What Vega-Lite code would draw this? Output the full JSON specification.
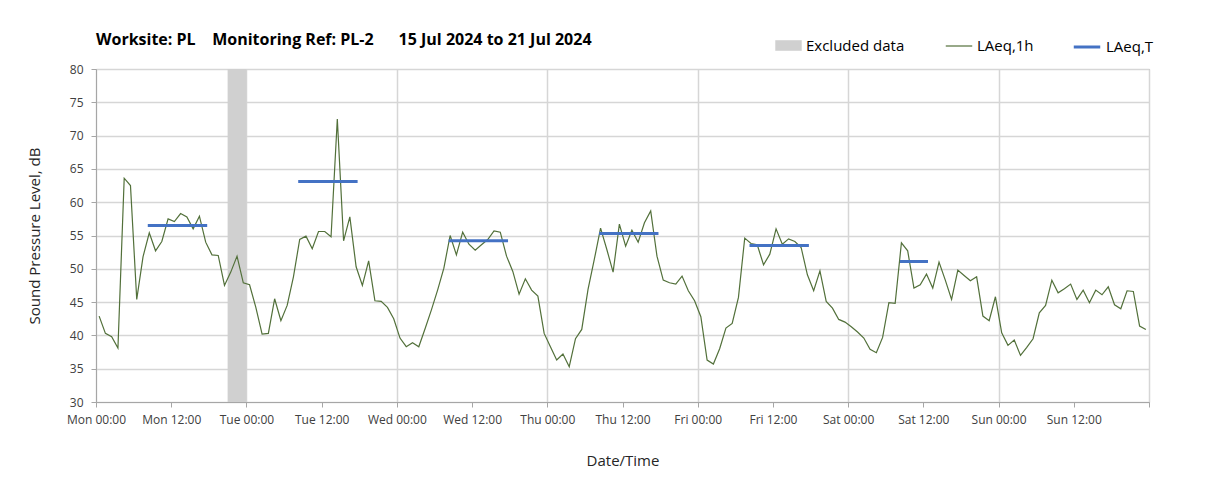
{
  "$schema": "https://vega.github.io/schema/vega-lite/v6.json",
  "width": 1053,
  "height": 333,
  "autosize": "none",
  "padding": {"left": 96, "top": 69, "right": 59, "bottom": 91},
  "background": "white",
  "title": {
    "text": "Worksite: PL\u00a0\u00a0\u00a0 Monitoring Ref: PL-2\u00a0\u00a0\u00a0\u00a0\u00a0 15 Jul 2024 to 21 Jul 2024",
    "anchor": "start",
    "frame": "group",
    "font": "Open Sans",
    "fontSize": 16,
    "fontWeight": "bold",
    "color": "#000000",
    "offset": 17,
    "dy": 33
  },
  "datasets": {
    "excluded": [
      {"t": "2024-07-15T21:00Z", "t2": "2024-07-16T00:00Z", "series": "Excluded data"}
    ],
    "laeqT": [
      {"t": "2024-07-15T08:30Z", "t2": "2024-07-15T17:30Z", "v": 56.5},
      {"t": "2024-07-16T08:30Z", "t2": "2024-07-16T17:30Z", "v": 63.1},
      {"t": "2024-07-17T08:30Z", "t2": "2024-07-17T17:30Z", "v": 54.2},
      {"t": "2024-07-18T08:30Z", "t2": "2024-07-18T17:30Z", "v": 55.3},
      {"t": "2024-07-19T08:30Z", "t2": "2024-07-19T17:30Z", "v": 53.5},
      {"t": "2024-07-20T08:30Z", "t2": "2024-07-20T12:30Z", "v": 51.1}
    ],
    "laeq1h": [
      {"t": "2024-07-15T00:30Z", "v": 42.9}, {"t": "2024-07-15T01:30Z", "v": 40.3}, {"t": "2024-07-15T02:30Z", "v": 39.8}, {"t": "2024-07-15T03:30Z", "v": 38.1},
      {"t": "2024-07-15T04:30Z", "v": 63.6}, {"t": "2024-07-15T05:30Z", "v": 62.5}, {"t": "2024-07-15T06:30Z", "v": 45.4}, {"t": "2024-07-15T07:30Z", "v": 51.8},
      {"t": "2024-07-15T08:30Z", "v": 55.4}, {"t": "2024-07-15T09:30Z", "v": 52.7}, {"t": "2024-07-15T10:30Z", "v": 54.1}, {"t": "2024-07-15T11:30Z", "v": 57.5},
      {"t": "2024-07-15T12:30Z", "v": 57.1}, {"t": "2024-07-15T13:30Z", "v": 58.3}, {"t": "2024-07-15T14:30Z", "v": 57.8}, {"t": "2024-07-15T15:30Z", "v": 56.0},
      {"t": "2024-07-15T16:30Z", "v": 57.9}, {"t": "2024-07-15T17:30Z", "v": 54.0}, {"t": "2024-07-15T18:30Z", "v": 52.1}, {"t": "2024-07-15T19:30Z", "v": 52.0},
      {"t": "2024-07-15T20:30Z", "v": 47.5}, {"t": "2024-07-15T21:30Z", "v": 49.5}, {"t": "2024-07-15T22:30Z", "v": 51.9}, {"t": "2024-07-15T23:30Z", "v": 47.9},
      {"t": "2024-07-16T00:30Z", "v": 47.6}, {"t": "2024-07-16T01:30Z", "v": 44.2}, {"t": "2024-07-16T02:30Z", "v": 40.2}, {"t": "2024-07-16T03:30Z", "v": 40.3},
      {"t": "2024-07-16T04:30Z", "v": 45.5}, {"t": "2024-07-16T05:30Z", "v": 42.2}, {"t": "2024-07-16T06:30Z", "v": 44.5}, {"t": "2024-07-16T07:30Z", "v": 48.8},
      {"t": "2024-07-16T08:30Z", "v": 54.4}, {"t": "2024-07-16T09:30Z", "v": 54.9}, {"t": "2024-07-16T10:30Z", "v": 53.0}, {"t": "2024-07-16T11:30Z", "v": 55.6},
      {"t": "2024-07-16T12:30Z", "v": 55.6}, {"t": "2024-07-16T13:30Z", "v": 54.8}, {"t": "2024-07-16T14:30Z", "v": 72.5}, {"t": "2024-07-16T15:30Z", "v": 54.2},
      {"t": "2024-07-16T16:30Z", "v": 57.8}, {"t": "2024-07-16T17:30Z", "v": 50.3}, {"t": "2024-07-16T18:30Z", "v": 47.5}, {"t": "2024-07-16T19:30Z", "v": 51.2},
      {"t": "2024-07-16T20:30Z", "v": 45.2}, {"t": "2024-07-16T21:30Z", "v": 45.1}, {"t": "2024-07-16T22:30Z", "v": 44.2}, {"t": "2024-07-16T23:30Z", "v": 42.5},
      {"t": "2024-07-17T00:30Z", "v": 39.6}, {"t": "2024-07-17T01:30Z", "v": 38.3}, {"t": "2024-07-17T02:30Z", "v": 38.9}, {"t": "2024-07-17T03:30Z", "v": 38.3},
      {"t": "2024-07-17T04:30Z", "v": 41.0}, {"t": "2024-07-17T05:30Z", "v": 43.8}, {"t": "2024-07-17T06:30Z", "v": 46.8}, {"t": "2024-07-17T07:30Z", "v": 50.1},
      {"t": "2024-07-17T08:30Z", "v": 55.0}, {"t": "2024-07-17T09:30Z", "v": 52.1}, {"t": "2024-07-17T10:30Z", "v": 55.5}, {"t": "2024-07-17T11:30Z", "v": 53.7},
      {"t": "2024-07-17T12:30Z", "v": 52.8}, {"t": "2024-07-17T13:30Z", "v": 53.6}, {"t": "2024-07-17T14:30Z", "v": 54.4}, {"t": "2024-07-17T15:30Z", "v": 55.7},
      {"t": "2024-07-17T16:30Z", "v": 55.5}, {"t": "2024-07-17T17:30Z", "v": 51.9}, {"t": "2024-07-17T18:30Z", "v": 49.6}, {"t": "2024-07-17T19:30Z", "v": 46.2},
      {"t": "2024-07-17T20:30Z", "v": 48.5}, {"t": "2024-07-17T21:30Z", "v": 46.8}, {"t": "2024-07-17T22:30Z", "v": 45.9}, {"t": "2024-07-17T23:30Z", "v": 40.3},
      {"t": "2024-07-18T00:30Z", "v": 38.3}, {"t": "2024-07-18T01:30Z", "v": 36.3}, {"t": "2024-07-18T02:30Z", "v": 37.2}, {"t": "2024-07-18T03:30Z", "v": 35.3},
      {"t": "2024-07-18T04:30Z", "v": 39.5}, {"t": "2024-07-18T05:30Z", "v": 40.9}, {"t": "2024-07-18T06:30Z", "v": 46.9}, {"t": "2024-07-18T07:30Z", "v": 51.4},
      {"t": "2024-07-18T08:30Z", "v": 56.1}, {"t": "2024-07-18T09:30Z", "v": 52.9}, {"t": "2024-07-18T10:30Z", "v": 49.5}, {"t": "2024-07-18T11:30Z", "v": 56.7},
      {"t": "2024-07-18T12:30Z", "v": 53.4}, {"t": "2024-07-18T13:30Z", "v": 55.8}, {"t": "2024-07-18T14:30Z", "v": 54.0}, {"t": "2024-07-18T15:30Z", "v": 56.9},
      {"t": "2024-07-18T16:30Z", "v": 58.7}, {"t": "2024-07-18T17:30Z", "v": 51.9}, {"t": "2024-07-18T18:30Z", "v": 48.3}, {"t": "2024-07-18T19:30Z", "v": 47.9},
      {"t": "2024-07-18T20:30Z", "v": 47.7}, {"t": "2024-07-18T21:30Z", "v": 48.9}, {"t": "2024-07-18T22:30Z", "v": 46.7}, {"t": "2024-07-18T23:30Z", "v": 45.2},
      {"t": "2024-07-19T00:30Z", "v": 42.8}, {"t": "2024-07-19T01:30Z", "v": 36.3}, {"t": "2024-07-19T02:30Z", "v": 35.7}, {"t": "2024-07-19T03:30Z", "v": 38.0},
      {"t": "2024-07-19T04:30Z", "v": 41.1}, {"t": "2024-07-19T05:30Z", "v": 41.8}, {"t": "2024-07-19T06:30Z", "v": 45.7}, {"t": "2024-07-19T07:30Z", "v": 54.6},
      {"t": "2024-07-19T08:30Z", "v": 53.8}, {"t": "2024-07-19T09:30Z", "v": 53.6}, {"t": "2024-07-19T10:30Z", "v": 50.6}, {"t": "2024-07-19T11:30Z", "v": 52.2},
      {"t": "2024-07-19T12:30Z", "v": 56.0}, {"t": "2024-07-19T13:30Z", "v": 53.7}, {"t": "2024-07-19T14:30Z", "v": 54.5}, {"t": "2024-07-19T15:30Z", "v": 54.1},
      {"t": "2024-07-19T16:30Z", "v": 53.2}, {"t": "2024-07-19T17:30Z", "v": 49.1}, {"t": "2024-07-19T18:30Z", "v": 46.7}, {"t": "2024-07-19T19:30Z", "v": 49.7},
      {"t": "2024-07-19T20:30Z", "v": 45.1}, {"t": "2024-07-19T21:30Z", "v": 44.1}, {"t": "2024-07-19T22:30Z", "v": 42.4}, {"t": "2024-07-19T23:30Z", "v": 42.0},
      {"t": "2024-07-20T00:30Z", "v": 41.3}, {"t": "2024-07-20T01:30Z", "v": 40.5}, {"t": "2024-07-20T02:30Z", "v": 39.6}, {"t": "2024-07-20T03:30Z", "v": 37.9},
      {"t": "2024-07-20T04:30Z", "v": 37.4}, {"t": "2024-07-20T05:30Z", "v": 39.7}, {"t": "2024-07-20T06:30Z", "v": 44.9}, {"t": "2024-07-20T07:30Z", "v": 44.8},
      {"t": "2024-07-20T08:30Z", "v": 53.9}, {"t": "2024-07-20T09:30Z", "v": 52.7}, {"t": "2024-07-20T10:30Z", "v": 47.1}, {"t": "2024-07-20T11:30Z", "v": 47.6},
      {"t": "2024-07-20T12:30Z", "v": 49.2}, {"t": "2024-07-20T13:30Z", "v": 47.1}, {"t": "2024-07-20T14:30Z", "v": 51.0}, {"t": "2024-07-20T15:30Z", "v": 48.3},
      {"t": "2024-07-20T16:30Z", "v": 45.4}, {"t": "2024-07-20T17:30Z", "v": 49.8}, {"t": "2024-07-20T18:30Z", "v": 49.0}, {"t": "2024-07-20T19:30Z", "v": 48.2},
      {"t": "2024-07-20T20:30Z", "v": 48.8}, {"t": "2024-07-20T21:30Z", "v": 42.9}, {"t": "2024-07-20T22:30Z", "v": 42.2}, {"t": "2024-07-20T23:30Z", "v": 45.8},
      {"t": "2024-07-21T00:30Z", "v": 40.4}, {"t": "2024-07-21T01:30Z", "v": 38.5}, {"t": "2024-07-21T02:30Z", "v": 39.3}, {"t": "2024-07-21T03:30Z", "v": 37.0},
      {"t": "2024-07-21T04:30Z", "v": 38.2}, {"t": "2024-07-21T05:30Z", "v": 39.5}, {"t": "2024-07-21T06:30Z", "v": 43.4}, {"t": "2024-07-21T07:30Z", "v": 44.5},
      {"t": "2024-07-21T08:30Z", "v": 48.3}, {"t": "2024-07-21T09:30Z", "v": 46.4}, {"t": "2024-07-21T10:30Z", "v": 47.0}, {"t": "2024-07-21T11:30Z", "v": 47.7},
      {"t": "2024-07-21T12:30Z", "v": 45.4}, {"t": "2024-07-21T13:30Z", "v": 46.8}, {"t": "2024-07-21T14:30Z", "v": 44.9}, {"t": "2024-07-21T15:30Z", "v": 46.8},
      {"t": "2024-07-21T16:30Z", "v": 46.1}, {"t": "2024-07-21T17:30Z", "v": 47.3}, {"t": "2024-07-21T18:30Z", "v": 44.6}, {"t": "2024-07-21T19:30Z", "v": 44.0},
      {"t": "2024-07-21T20:30Z", "v": 46.7}, {"t": "2024-07-21T21:30Z", "v": 46.6}, {"t": "2024-07-21T22:30Z", "v": 41.4}, {"t": "2024-07-21T23:30Z", "v": 40.9}
    ]
  },
  "encoding": {
    "x": {
      "field": "t",
      "type": "temporal",
      "title": "Date/Time",
      "scale": {"type": "utc", "domain": [1721001600000, 1721606400000]},
      "axis": {
        "values": [1721001600000, 1721044800000, 1721088000000, 1721131200000, 1721174400000, 1721217600000, 1721260800000, 1721304000000, 1721347200000, 1721390400000, 1721433600000, 1721476800000, 1721520000000, 1721563200000, 1721606400000],
        "labelExpr": "utcdate(datum.value) === 22 ? '' : utcFormat(datum.value, '%a %H:%M')",
        "labelOverlap": false,
        "labelFlush": false,
        "grid": true,
        "gridOpacity": {"condition": {"test": "utchours(datum.value) === 0", "value": 1}, "value": 0},
        "tickSize": 5,
        "labelPadding": 7,
        "titlePadding": 28
      }
    }
  },
  "resolve": {"scale": {"color": "independent"}, "legend": {"color": "independent"}},
  "layer": [
    {
      "data": {"name": "excluded"},
      "mark": {"type": "rect", "opacity": 1},
      "encoding": {
        "x2": {"field": "t2"},
        "color": {
          "field": "series",
          "type": "nominal",
          "scale": {"domain": ["Excluded data"], "range": ["#d0d0d0"]},
          "legend": {
            "title": null,
            "orient": "none",
            "legendX": 679,
            "legendY": -37,
            "labelOffset": 4,
            "symbolSize": 700,
            "symbolType": "M-1,-0.4H1V0.4H-1Z",
            "symbolStrokeWidth": 0,
            "labelFont": "Open Sans",
            "labelFontSize": 15,
            "labelColor": "#000000",
            "labelLimit": 300
          }
        }
      }
    },
    {
      "data": {"name": "laeq1h"},
      "mark": {"type": "line", "strokeWidth": 1.2},
      "encoding": {
        "y": {
          "field": "v",
          "type": "quantitative",
          "title": "Sound Pressure Level, dB",
          "scale": {"domain": [30, 80], "nice": false, "zero": false},
          "axis": {"values": [30, 35, 40, 45, 50, 55, 60, 65, 70, 75, 80], "labelOverlap": false, "tickSize": 5, "labelPadding": 8, "titlePadding": 27}
        },
        "color": {
          "datum": "LAeq,1h",
          "type": "nominal",
          "scale": {"domain": ["LAeq,1h"], "range": ["#52703a"]},
          "legend": {
            "title": null,
            "orient": "none",
            "legendX": 849,
            "legendY": -37,
            "labelOffset": 4,
            "symbolSize": 700,
            "symbolType": "stroke",
            "symbolStrokeWidth": 1.2,
            "labelFont": "Open Sans",
            "labelFontSize": 15,
            "labelColor": "#000000",
            "labelLimit": 300
          }
        }
      }
    },
    {
      "data": {"name": "laeqT"},
      "mark": {"type": "rule", "strokeWidth": 3, "strokeCap": "square"},
      "encoding": {
        "x2": {"field": "t2"},
        "y": {
          "field": "v",
          "type": "quantitative",
          "title": "Sound Pressure Level, dB",
          "axis": {"values": [30, 35, 40, 45, 50, 55, 60, 65, 70, 75, 80], "labelOverlap": false, "tickSize": 5, "labelPadding": 8, "titlePadding": 27}
        },
        "color": {
          "datum": "LAeq,T",
          "type": "nominal",
          "scale": {"domain": ["LAeq,T"], "range": ["#4472c4"]},
          "legend": {
            "title": null,
            "orient": "none",
            "legendX": 976,
            "legendY": -37,
            "labelOffset": 4,
            "symbolSize": 700,
            "symbolType": "stroke",
            "symbolStrokeWidth": 3,
            "labelFont": "Open Sans",
            "labelFontSize": 15,
            "labelColor": "#000000",
            "labelLimit": 300
          }
        }
      }
    }
  ],
  "config": {
    "view": {"stroke": "#a6a6a6", "strokeWidth": 1},
    "axis": {
      "labelFont": "Open Sans",
      "labelFontSize": 12,
      "labelColor": "#404040",
      "titleFont": "Open Sans",
      "titleFontSize": 15,
      "titleFontWeight": "normal",
      "titleColor": "#262626",
      "domainColor": "#a6a6a6",
      "tickColor": "#a6a6a6",
      "gridColor": "#d6d6d6",
      "gridWidth": 1.5
    }
  }
}
